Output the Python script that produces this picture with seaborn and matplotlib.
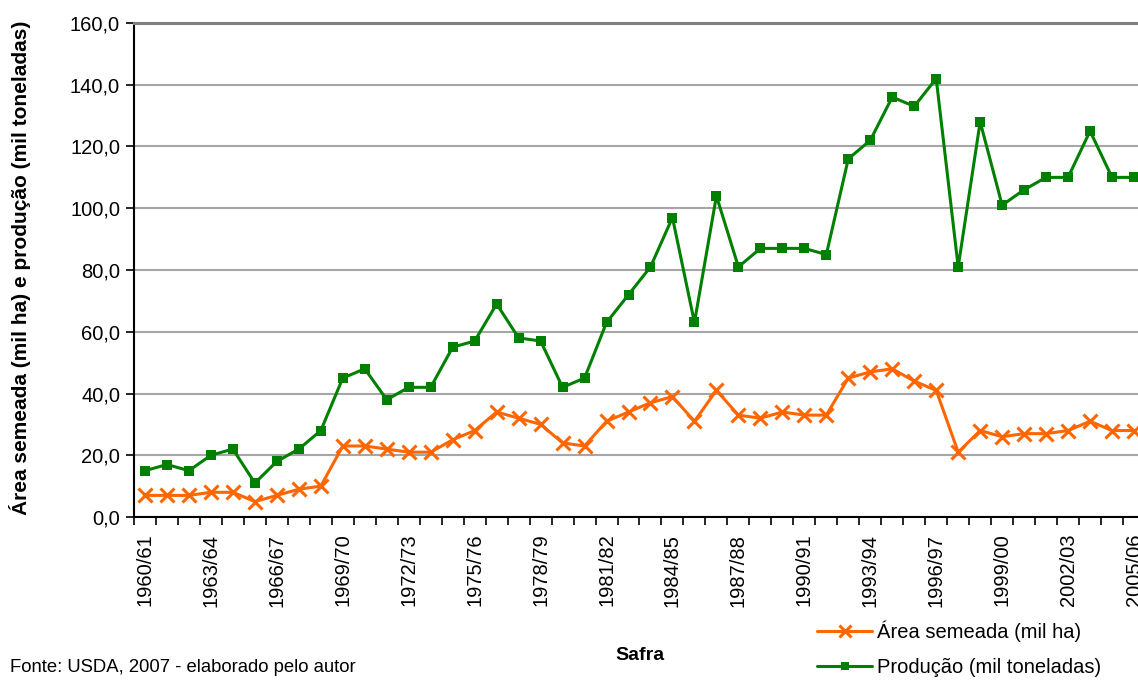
import matplotlib
matplotlib.use("Agg")
import matplotlib.pyplot as plt
import seaborn as sns
import numpy as np
from matplotlib.ticker import FixedLocator

safras = ["1960/61", "1961/62", "1962/63", "1963/64", "1964/65", "1965/66",
          "1966/67", "1967/68", "1968/69", "1969/70", "1970/71", "1971/72",
          "1972/73", "1973/74", "1974/75", "1975/76", "1976/77", "1977/78",
          "1978/79", "1979/80", "1980/81", "1981/82", "1982/83", "1983/84",
          "1984/85", "1985/86", "1986/87", "1987/88", "1988/89", "1989/90",
          "1990/91", "1991/92", "1992/93", "1993/94", "1994/95", "1995/96",
          "1996/97", "1997/98", "1998/99", "1999/00", "2000/01", "2001/02",
          "2002/03", "2003/04", "2004/05", "2005/06"]

area = [7, 7, 7, 8, 8, 5, 7, 9, 10, 23, 23, 22, 21, 21, 25, 28,
        34, 32, 30, 24, 23, 31, 34, 37, 39, 31, 41, 33, 32, 34, 33, 33,
        45, 47, 48, 44, 41, 21, 28, 26, 27, 27, 28, 31, 28, 28]

producao = [15, 17, 15, 20, 22, 11, 18, 22, 28, 45, 48, 38, 42, 42, 55, 57,
            69, 58, 57, 42, 45, 63, 72, 81, 97, 63, 104, 81, 87, 87, 87, 85,
            116, 122, 136, 133, 142, 81, 128, 101, 106, 110, 110, 125, 110, 110]

sns.set_style("white")
plt.rcParams['font.family'] = ['Liberation Sans', 'DejaVu Sans']
for k in ['text.color', 'axes.labelcolor', 'xtick.color', 'ytick.color']:
    plt.rcParams[k] = 'black'

W, H = 1138, 680
fig = plt.figure(figsize=(W / 100, H / 100), dpi=100)
ax = fig.add_axes([134 / W, (H - 517) / H, (1145 - 134) / W, (517 - 23) / H])

laranja = "#FF6600"
verde = "#008000"
sns.lineplot(x=safras, y=area, ax=ax, sort=False, color=laranja, lw=2.2,
             marker="x", markersize=10.5, markeredgewidth=2.2, markeredgecolor=laranja,
             label="Área semeada (mil ha)")
sns.lineplot(x=safras, y=producao, ax=ax, sort=False, color=verde, lw=2.2,
             marker="s", markersize=7, markeredgewidth=0, markeredgecolor=verde,
             label="Produção (mil toneladas)")

ax.set_xlim(-0.5, 45.5)
ax.set_ylim(0, 160)
yt = list(range(0, 161, 20))
ax.set_yticks(yt)
ax.set_yticklabels([f"{v:.1f}".replace(".", ",") for v in yt], fontsize=14.5)
ax.yaxis.grid(True, color="#A6A6A6", lw=1.5)
ax.set_axisbelow(True)

ax.set_xticks(safras[::3])
ax.set_xticklabels(safras[::3], rotation=90, fontsize=14.5)
ax.xaxis.set_minor_locator(FixedLocator(np.arange(-0.5, 46, 1)))
ax.tick_params(axis="x", which="major", length=0, pad=12)
ax.tick_params(axis="x", which="minor", length=6, width=1.2, color="black", direction="out", bottom=True)
ax.tick_params(axis="y", length=6, width=1.2, color="black", direction="out", left=True, pad=4)

for s in ["left", "bottom"]:
    ax.spines[s].set_color("black")
    ax.spines[s].set_linewidth(1.5)
ax.spines["top"].set_color("#808080")
ax.spines["top"].set_linewidth(2.2)
ax.spines["right"].set_visible(False)

ax.set_xlabel("")
ax.set_ylabel("")
fig.text(20 / W, 1 - 268 / H, "Área semeada (mil ha) e produção (mil toneladas)",
         rotation=90, ha="center", va="center", fontsize=15, fontweight="bold")
fig.text(640 / W, 1 - 655 / H, "Safra", ha="center", va="center",
         fontsize=14, fontweight="bold")
fig.text(10 / W, 1 - 667 / H, "Fonte: USDA, 2007 - elaborado pelo autor",
         ha="left", va="center", fontsize=13.3)

handles, labels = ax.get_legend_handles_labels()
ax.get_legend().remove()
fig.legend(handles, labels, loc="upper left", bbox_to_anchor=(817 / W, 1 - 621 / H),
           frameon=False, fontsize=14.5, handlelength=2.75, handletextpad=0.25,
           labelspacing=0.75, borderaxespad=0, borderpad=0, markerscale=0.8)

fig.savefig("out.png", dpi=100)
